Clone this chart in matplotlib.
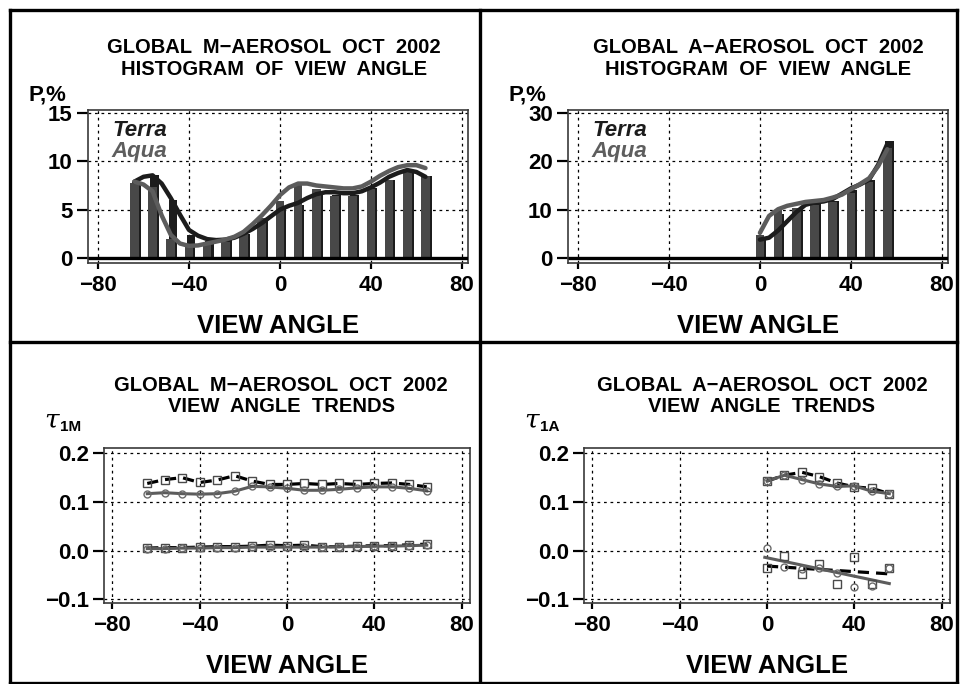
import matplotlib
matplotlib.use("Agg")
import matplotlib.pyplot as plt
from matplotlib.lines import Line2D

plt.rcParams['font.family'] = ['Liberation Sans', 'DejaVu Sans']
plt.rcParams['font.weight'] = 'bold'

# ---- histogram of view angle, M-aerosol
bins_m = [-64, -56, -48, -40, -32, -24, -16, -8, 0, 8, 16, 24, 32, 40, 48, 56, 64]
terra_bar_m = [7.9, 8.6, 6.0, 2.4, 1.8, 1.9, 2.5, 3.9, 5.4, 5.5, 6.6, 6.5, 6.5, 7.2, 8.1, 8.9, 8.5]
aqua_bar_m = [7.8, 7.3, 1.95, 1.35, 1.5, 1.7, 2.6, 4.1, 5.9, 7.6, 7.1, 6.4, 6.4, 7.1, 8.1, 9.0, 8.5]
curve_x_m = [-64, -60, -56, -52, -48, -44, -40, -36, -32, -28, -24, -20, -16, -12, -8, -4,
             0, 4, 8, 12, 16, 20, 24, 28, 32, 36, 40, 44, 48, 52, 56, 60, 64]
terra_curve_m = [7.9, 8.4, 8.55, 7.7, 6.2, 4.5, 2.9, 2.3, 1.95, 1.85, 1.9, 2.1, 2.5, 3.0, 3.6, 4.3,
                 5.0, 5.4, 5.7, 6.2, 6.6, 6.8, 6.8, 6.7, 6.7, 6.9, 7.3, 7.8, 8.4, 8.8, 9.1, 8.9, 8.4]
aqua_curve_m = [7.9, 7.6, 6.9, 4.4, 2.4, 1.5, 1.25, 1.3, 1.5, 1.7, 1.9, 2.2, 2.7, 3.5, 4.4, 5.4,
                6.5, 7.3, 7.7, 7.7, 7.5, 7.4, 7.3, 7.2, 7.2, 7.4, 7.9, 8.5, 9.0, 9.4, 9.6, 9.6, 9.3]

# ---- histogram of view angle, A-aerosol
bins_a = [0, 8, 16, 24, 32, 40, 48, 56]
terra_bar_a = [4.0, 9.2, 10.3, 11.2, 11.8, 14.0, 16.1, 24.3]
aqua_bar_a = [4.8, 10.0, 10.3, 11.0, 11.6, 13.4, 15.8, 22.7]
curve_x_a = [0, 4, 8, 12, 16, 20, 24, 28, 32, 36, 40, 44, 48, 52, 56]
terra_curve_a = [3.8, 4.2, 5.7, 7.6, 9.5, 11.0, 11.5, 11.7, 12.2, 13.3, 14.4, 15.2, 16.2, 19.3, 23.6]
aqua_curve_a = [5.2, 8.7, 10.1, 10.8, 11.2, 11.6, 11.8, 12.0, 12.5, 13.1, 14.2, 15.3, 16.5, 19.0, 22.5]

# ---- view angle trends, M-aerosol
terra_hi_m = [0.138, 0.146, 0.150, 0.140, 0.145, 0.154, 0.143, 0.136, 0.136, 0.138, 0.136,
              0.138, 0.136, 0.138, 0.139, 0.136, 0.131]
aqua_hi_m = [0.117, 0.119, 0.117, 0.116, 0.117, 0.122, 0.132, 0.131, 0.128, 0.124, 0.124,
             0.126, 0.129, 0.131, 0.131, 0.128, 0.123]
terra_lo_m = [0.005, 0.006, 0.006, 0.007, 0.008, 0.008, 0.009, 0.011, 0.010, 0.011, 0.008,
              0.008, 0.009, 0.010, 0.010, 0.012, 0.013]
aqua_lo_m = [0.004, 0.004, 0.005, 0.005, 0.006, 0.006, 0.007, 0.007, 0.007, 0.007, 0.007,
             0.008, 0.008, 0.009, 0.009, 0.010, 0.011]

# ---- view angle trends, A-aerosol
terra_hi_a = [0.143, 0.155, 0.161, 0.152, 0.139, 0.131, 0.128, 0.117]
aqua_hi_a = [0.143, 0.155, 0.146, 0.137, 0.132, 0.133, 0.122, 0.117]
terra_lo_a = [-0.036, -0.012, -0.048, -0.028, -0.069, -0.014, -0.068, -0.036]
aqua_lo_a = [0.005, -0.034, -0.038, -0.036, -0.047, -0.076, -0.072, -0.036]
terra_fit_x, terra_fit_y = [0, 56], [-0.032, -0.048]
aqua_fit_x, aqua_fit_y = [-1, 56], [-0.014, -0.068]

xticks = [-80, -40, 0, 40, 80]
TERRA = '#1c1c1c'
AQUA = '#5c5c5c'
BAR = '#484848'

fig = plt.figure(figsize=(9.6, 6.84), dpi=100)


def setup(ax, xlim, ylim, yticks, ylabels):
    ax.set_xlim(xlim)
    ax.set_ylim(ylim)
    ax.set_xticks(xticks)
    ax.set_xticklabels(['\u221280', '\u221240', '0', '40', '80'])
    ax.set_yticks(yticks)
    ax.set_yticklabels(ylabels)
    ax.grid(True, color='k', linestyle=(0, (2.2, 3)), linewidth=0.9)
    ax.set_axisbelow(True)
    ax.tick_params(axis='y', direction='out', length=8, width=1.6, labelsize=16, pad=3)
    ax.tick_params(axis='x', direction='out', length=4.5, width=1.6, labelsize=16, pad=4)
    for s in ax.spines.values():
        s.set_linewidth(1.2)
        s.set_color('#3a3a3a')
    ax.set_xlabel('VIEW ANGLE', fontsize=18.5, fontweight='bold', labelpad=13)


def histogram(ax, bins, tb, ab, cx, tc, ac, xlim):
    ax.bar([b + 0.9 for b in bins], tb, width=3.8, color=TERRA, zorder=2)
    ax.bar(bins, ab, width=3.8, color=BAR, zorder=3)
    ax.plot(xlim, [0, 0], color='k', linewidth=2.4, zorder=4, solid_capstyle='butt')
    ax.plot(cx, tc, color=TERRA, linewidth=3.2, zorder=5, solid_capstyle='round')
    ax.plot(cx, ac, color=AQUA, linewidth=3.2, zorder=6, solid_capstyle='round')
    ax.text(0.063, 0.83, 'Terra', transform=ax.transAxes, fontsize=16,
            fontstyle='italic', fontweight='bold', color=TERRA)
    ax.text(0.063, 0.69, 'Aqua', transform=ax.transAxes, fontsize=16,
            fontstyle='italic', fontweight='bold', color='#5e5e5e')


def trend(ax, x, y, terra):
    if terra:
        ax.plot(x, y, color='k', linestyle=(0, (3.5, 2.2)), linewidth=2.3, zorder=4)
        ax.plot(x, y, linestyle='none', marker='s', markersize=6, markerfacecolor='none',
                markeredgecolor='#4a4a4a', markeredgewidth=1.0, zorder=5)
    else:
        ax.plot(x, y, color=AQUA, linewidth=2.2, zorder=4)
        ax.plot(x, y, linestyle='none', marker='o', markersize=5, markerfacecolor='none',
                markeredgecolor='#6a6a6a', markeredgewidth=1.0, zorder=5)


hist_xlim = (-84.4, 82.7)
trend_xlim = (-83.8, 83.8)

ax1 = fig.add_axes([88 / 960, 1 - 263 / 684, 380 / 960, 153 / 684])
setup(ax1, hist_xlim, (-0.52, 15.31), [0, 5, 10, 15], ['0', '5', '10', '15'])
histogram(ax1, bins_m, terra_bar_m, aqua_bar_m, curve_x_m, terra_curve_m, aqua_curve_m, hist_xlim)

ax2 = fig.add_axes([568 / 960, 1 - 263 / 684, 380 / 960, 153 / 684])
setup(ax2, hist_xlim, (-1.03, 30.62), [0, 10, 20, 30], ['0', '10', '20', '30'])
histogram(ax2, bins_a, terra_bar_a, aqua_bar_a, curve_x_a, terra_curve_a, aqua_curve_a, hist_xlim)

tlabels = ['\u22120.1', '0.0', '0.1', '0.2']
ax3 = fig.add_axes([104 / 960, 1 - 603 / 684, 366 / 960, 155 / 684])
setup(ax3, trend_xlim, (-0.108, 0.211), [-0.1, 0, 0.1, 0.2], tlabels)
trend(ax3, bins_m, terra_hi_m, True)
trend(ax3, bins_m, aqua_hi_m, False)
trend(ax3, bins_m, terra_lo_m, True)
trend(ax3, bins_m, aqua_lo_m, False)

ax4 = fig.add_axes([584 / 960, 1 - 603 / 684, 366 / 960, 155 / 684])
setup(ax4, trend_xlim, (-0.108, 0.211), [-0.1, 0, 0.1, 0.2], tlabels)
trend(ax4, bins_a, terra_hi_a, True)
trend(ax4, bins_a, aqua_hi_a, False)
ax4.plot(terra_fit_x, terra_fit_y, color='k', linestyle=(0, (3.5, 2.2)), linewidth=2.3, zorder=4)
ax4.plot(aqua_fit_x, aqua_fit_y, color=AQUA, linewidth=2.2, zorder=4)
ax4.plot(bins_a, terra_lo_a, linestyle='none', marker='s', markersize=6, markerfacecolor='none',
         markeredgecolor='#4a4a4a', markeredgewidth=1.0, zorder=5)
ax4.plot(bins_a, aqua_lo_a, linestyle='none', marker='o', markersize=5, markerfacecolor='none',
         markeredgecolor='#6a6a6a', markeredgewidth=1.0, zorder=5)


def ftext(x, y, s, **kw):
    fig.text(x / 960, 1 - y / 684, s, **kw)


titles = [(274, 53, 'GLOBAL  M\u2212AEROSOL  OCT  2002'), (274, 75, 'HISTOGRAM  OF  VIEW  ANGLE'),
          (758, 53, 'GLOBAL  A\u2212AEROSOL  OCT  2002'), (758, 75, 'HISTOGRAM  OF  VIEW  ANGLE'),
          (281, 391, 'GLOBAL  M\u2212AEROSOL  OCT  2002'), (281, 412, 'VIEW  ANGLE  TRENDS'),
          (762, 391, 'GLOBAL  A\u2212AEROSOL  OCT  2002'), (762, 412, 'VIEW  ANGLE  TRENDS')]
for x, y, s in titles:
    ftext(x, y, s, ha='center', va='baseline', fontsize=14.5, fontweight='bold')

for dx in (0, 480):
    ftext(28 + dx, 100, 'P,%', ha='left', va='baseline', fontsize=16, fontweight='bold')

for dx, sub in ((0, '1M'), (480, '1A')):
    ftext(44 + dx, 428, '\u03c4', ha='left', va='baseline', fontsize=19,
          fontstyle='italic', fontweight='normal', family='DejaVu Serif')
    ftext(60 + dx, 431, sub, ha='left', va='baseline', fontsize=11, fontweight='bold')

# panel frame
frame_lines = [([10, 957], [9.5, 9.5]), ([10, 957], [682.5, 682.5]),
               ([10, 10], [9.5, 682.5]), ([957, 957], [9.5, 682.5]),
               ([480, 480], [9.5, 682.5]), ([10, 957], [342, 342])]
for xs, ys in frame_lines:
    fig.add_artist(Line2D([v / 960 for v in xs], [1 - v / 684 for v in ys],
                          transform=fig.transFigure, color='k', linewidth=2.4))

fig.savefig('out.png', dpi=100)
